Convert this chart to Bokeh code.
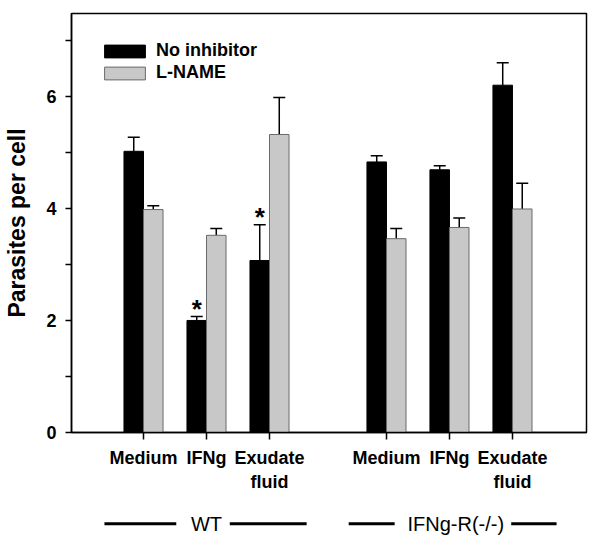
from bokeh.plotting import figure
from bokeh.layouts import column
from bokeh.models import (Range1d, FixedTicker, Whisker, TeeHead, ColumnDataSource,
                          Legend, LegendItem)
from bokeh.core.properties import value
from bokeh.embed import file_html
from bokeh.resources import INLINE

# ---- data ----
groups = ["WT", "IFNg-R(-/-)"]
treatments = ["Medium", "IFNg", "Exudate\nfluid"]
x_pos = [1.0, 2.0, 3.0, 4.857, 5.857, 6.857]
no_inhibitor = [5.02, 2.00, 3.07, 4.83, 4.69, 6.20]
no_inhibitor_err = [0.25, 0.07, 0.64, 0.11, 0.07, 0.40]
l_name = [3.98, 3.52, 5.32, 3.46, 3.66, 3.99]
l_name_err = [0.07, 0.12, 0.66, 0.18, 0.17, 0.46]
significant = [False, True, True, False, False, False]
y_ticks = [0, 2, 4, 6]
y_minor = [1, 3, 5, 7]
Y_TOP = 7.48

FONT = "Liberation Sans"
bw = 0.31

xr = Range1d(-0.143, 8.032)
p = figure(width=591, height=499, output_backend="svg", toolbar_location=None,
           x_range=xr, y_range=Range1d(0, Y_TOP),
           min_border_left=71, min_border_right=5, min_border_top=13,
           min_border_bottom=67)
p.grid.visible = False
p.outline_line_color = "black"
p.outline_line_width = 1.5
p.background_fill_color = "white"

xb = [x - bw / 2 for x in x_pos]
xg = [x + bw / 2 for x in x_pos]
src_b = ColumnDataSource(dict(x=xb, top=no_inhibitor,
                              up=[t + e for t, e in zip(no_inhibitor, no_inhibitor_err)]))
src_g = ColumnDataSource(dict(x=xg, top=l_name,
                              up=[t + e for t, e in zip(l_name, l_name_err)]))

rb = p.vbar(x="x", top="top", width=bw, bottom=0, source=src_b,
            fill_color="black", line_color="black", line_width=1)
rg = p.vbar(x="x", top="top", width=bw, bottom=0, source=src_g,
            fill_color="#c8c8c8", line_color="#6a6a6a", line_width=1)

for src in (src_b, src_g):
    p.add_layout(Whisker(source=src, base="x", lower="top", upper="up",
                         dimension="height", line_width=1.5, line_color="black",
                         lower_head=None,
                         upper_head=TeeHead(size=12, line_width=1.5, line_color="black")))

# asterisks
ax = [x for x, s in zip(xb, significant) if s]
ay = [t + e + 0.14 for t, e, s in zip(no_inhibitor, no_inhibitor_err, significant) if s]
p.text(x=ax, y=ay, text=["*"] * len(ax), text_align="center", text_baseline="alphabetic",
       text_font=value(FONT), text_font_size="26px", text_font_style="bold", text_color="black")

# left axis
p.yaxis.ticker = FixedTicker(ticks=y_ticks, minor_ticks=y_minor)
p.yaxis.axis_label = "Parasites per cell"
p.yaxis.axis_label_text_font = FONT
p.yaxis.axis_label_text_font_size = "23px"
p.yaxis.axis_label_text_font_style = "bold"
p.yaxis.axis_label_standoff = 13
p.yaxis.major_label_text_font = FONT
p.yaxis.major_label_text_font_size = "18px"
p.yaxis.major_label_text_font_style = "bold"
p.yaxis.major_label_standoff = 9
p.yaxis.major_tick_in = 0
p.yaxis.major_tick_out = 6
p.yaxis.minor_tick_in = 0
p.yaxis.minor_tick_out = 6

# bottom axis
p.xaxis.ticker = FixedTicker(ticks=x_pos)
p.xaxis.major_label_overrides = {x: t for x, t in zip(x_pos, treatments * 2)}
p.xaxis.major_label_text_font = FONT
p.xaxis.major_label_text_font_size = "18px"
p.xaxis.major_label_text_font_style = "bold"
p.xaxis.major_label_standoff = 8
p.xaxis.major_tick_in = 0
p.xaxis.major_tick_out = 7
p.xaxis.minor_tick_out = 0
p.xaxis.minor_tick_in = 0

for ax_ in (p.xaxis, p.yaxis):
    ax_.axis_line_width = 1.5
    ax_.axis_line_color = "black"
    ax_.major_tick_line_width = 1.5
    ax_.minor_tick_line_width = 1.5
    ax_.major_label_text_color = "black"
    ax_.axis_label_text_color = "black"

# legend
legend = Legend(items=[LegendItem(label="No inhibitor", renderers=[rb]),
                       LegendItem(label="L-NAME", renderers=[rg])],
                location=(28, 349), padding=0, margin=0, spacing=1,
                glyph_width=51, glyph_height=16, label_height=16, label_standoff=6,
                label_text_font=FONT, label_text_font_size="18px",
                label_text_font_style="bold", label_text_color="black",
                border_line_color=None, background_fill_alpha=0)
p.add_layout(legend)

# group labels strip below the main plot
g = figure(width=591, height=41, output_backend="svg", toolbar_location=None,
           x_range=xr, y_range=Range1d(0, 1), x_axis_location=None, y_axis_location=None,
           min_border_left=71, min_border_right=5, min_border_top=0, min_border_bottom=0)
g.grid.visible = False
g.outline_line_color = None

group_centers = [sum(x_pos[0:3]) / 3, sum(x_pos[3:6]) / 3]
group_y = 0.41
text_shift = [0.0, 0.1]
line_offsets = [[(-1.62, -0.48), (0.37, 1.59)], [(-1.60, -0.87), (0.98, 1.70)]]
g.text(x=[c + s for c, s in zip(group_centers, text_shift)], y=[group_y] * 2, text=groups,
       text_align="center", text_baseline="middle", text_font=value(FONT),
       text_font_size="20px", text_color="black")
x0s, x1s = [], []
for c, offs in zip(group_centers, line_offsets):
    for a, b in offs:
        x0s.append(c + a)
        x1s.append(c + b)
g.segment(x0=x0s, x1=x1s, y0=[group_y] * len(x0s), y1=[group_y] * len(x0s),
          line_width=3, line_color="black")

layout = column(p, g, spacing=0)
open("out.html", "w").write(file_html(layout, INLINE))
